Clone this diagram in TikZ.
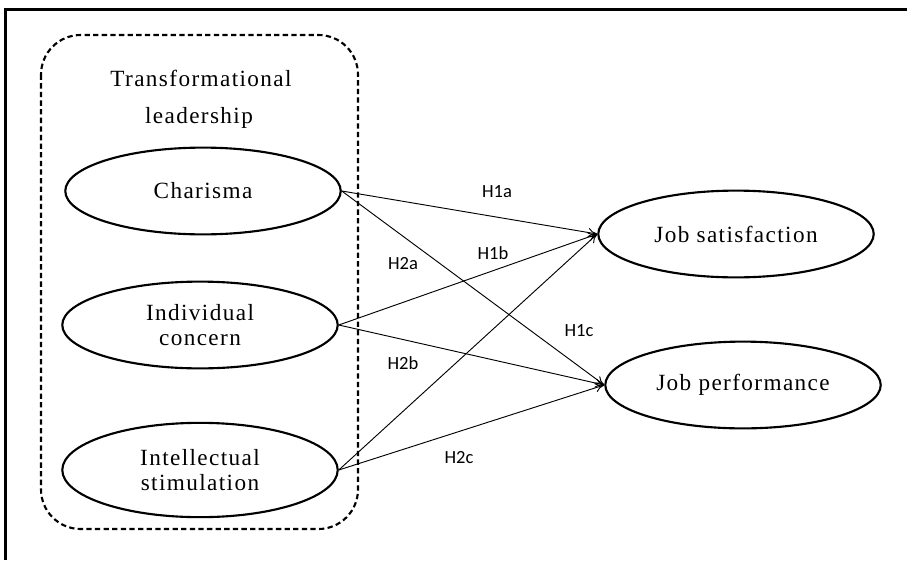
\documentclass[tikz,border=0pt]{standalone}
\usepackage{fontspec}
\setmainfont{Liberation Serif}
\newfontfamily\widefont{Liberation Serif}[LetterSpace=6]
\newfontfamily\hypfont{Carlito}
\usetikzlibrary{shapes.geometric,arrows.meta}

\begin{document}
\begin{tikzpicture}[x=0.0265cm,y=-0.0265cm,>={To[length=2.4mm,width=2.4mm]},
    factor/.style={ellipse,draw,line width=1.6pt,inner sep=0pt,minimum width=7.3cm,minimum height=2.3cm,align=center,font=\widefont\fontsize{17.5}{19}\selectfont},
    hyp/.style={font=\hypfont\fontsize{14}{16}\selectfont},
    every path/.style={line width=0.7pt}]
  \useasboundingbox (0,0) rectangle (907,560);
  % frame
  \draw[line width=2pt] (5.5,560) -- (5.5,9.5) -- (907,9.5);
  % transformational leadership group
  \draw[line width=1.6pt,dash pattern=on 4pt off 2.5pt,rounded corners=1.05cm] (41,35) rectangle (358,529);
  \node[font=\widefont\fontsize{17.5}{19}\selectfont] (tl1) at (201,78) {Transformational};
  \node[font=\widefont\fontsize{17.5}{19}\selectfont] (tl2) at (199,118) {leadership};
  % factors
  \node[factor] (cha) at (203,191) {Charisma};
  \node[factor] (ind) at (200,325) {Individual\\concern};
  \node[factor,minimum height=2.5cm] (int) at (200,470) {Intellectual\\stimulation};
  % outcomes
  \node[factor] (sat) at (736,234) {Job satisfaction};
  \node[factor] (per) at (743,385) {Job performance};
  % paths
  \draw[->] (cha.east) -- (sat.west);
  \draw[->] (cha.east) -- (per.west);
  \draw[->] (ind.east) -- (sat.west);
  \draw[->] (ind.east) -- (per.west);
  \draw[->] (int.east) -- (sat.west);
  \draw[->] (int.east) -- (per.west);
  % hypotheses
  \node[hyp] (h1a) at (497,192) {H1a};
  \node[hyp] (h1b) at (493,253) {H1b};
  \node[hyp] (h1c) at (579,331) {H1c};
  \node[hyp] (h2a) at (403,264) {H2a};
  \node[hyp] (h2b) at (403,363) {H2b};
  \node[hyp] (h2c) at (459,458) {H2c};
\end{tikzpicture}
\end{document}
